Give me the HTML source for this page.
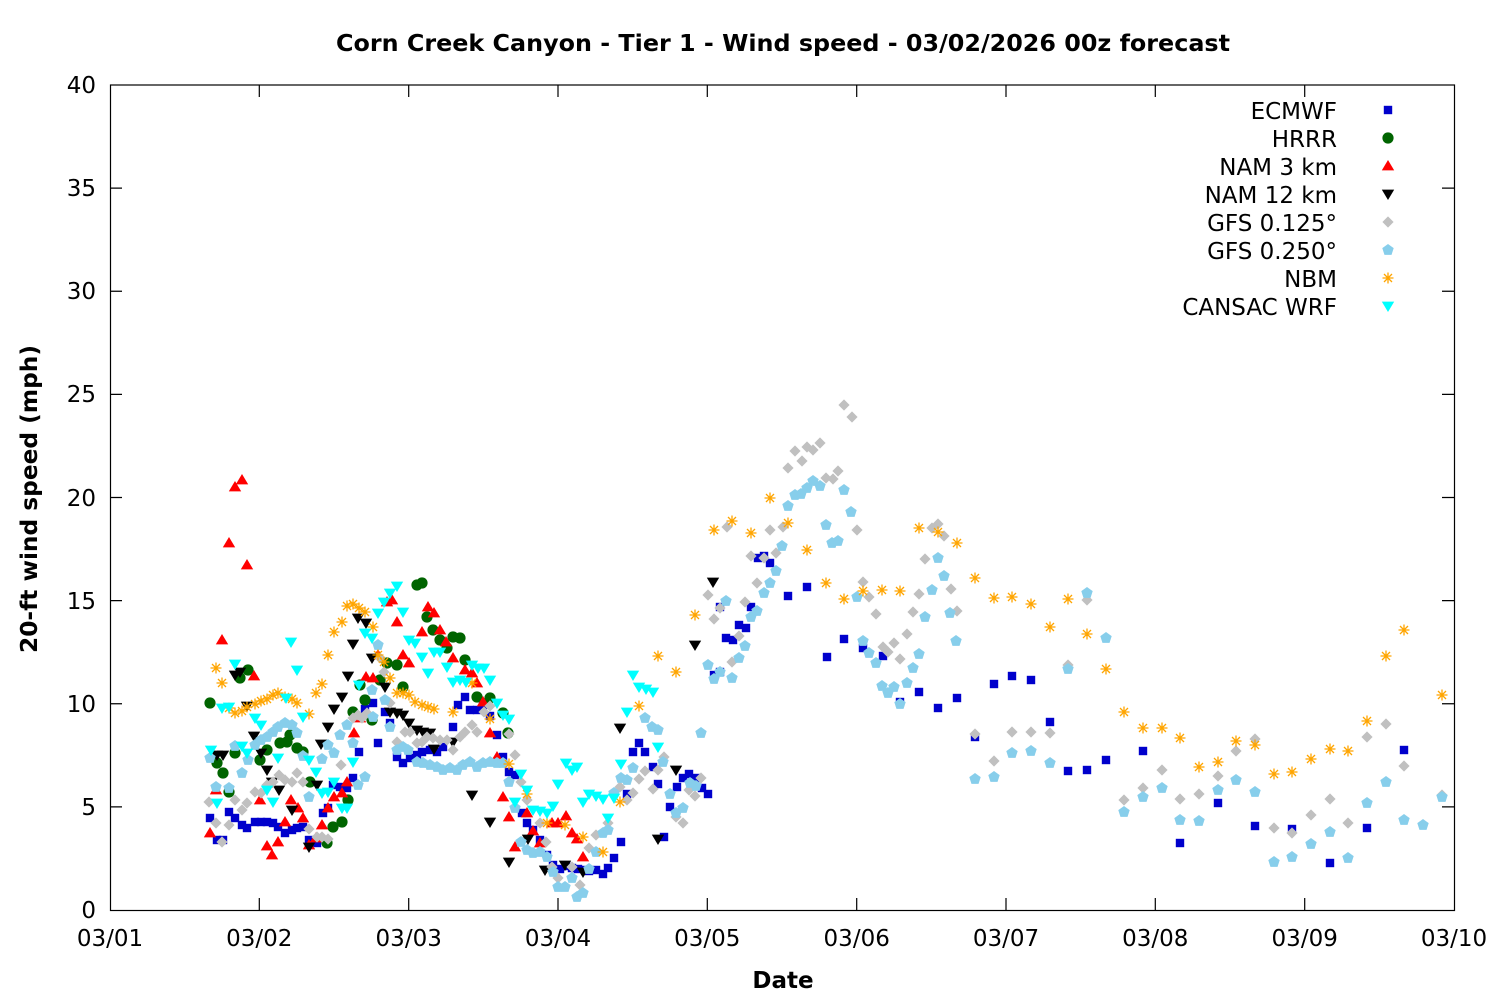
<!DOCTYPE html>
<html><head><meta charset="utf-8"><style>
html,body{margin:0;padding:0;background:#fff;}
svg{display:block;}
text{font-family:"DejaVu Sans","Liberation Sans",sans-serif;fill:#000;}
</style></head><body>
<svg width="1500" height="1000" viewBox="0 0 1500 1000" xmlns="http://www.w3.org/2000/svg">
<defs>
<path id="sq" d="M-4.2,-4.2h8.4v8.4h-8.4z"/>
<circle id="ci" cx="0" cy="0" r="5.6"/>
<path id="tu" d="M0,-6L6.2,4.4L-6.2,4.4z"/>
<path id="td" d="M-6.2,-4.4L6.2,-4.4L0,6z"/>
<path id="di" d="M0,-5.6L5.6,0L0,5.6L-5.6,0z"/>
<path id="pe" d="M0,-6L5.7,-1.85L3.53,4.85L-3.53,4.85L-5.7,-1.85z"/>
<path id="as" d="M-5.5,0H5.5M0,-5.5V5.5M-4,-4L4,4M-4,4L4,-4"/>
</defs>
<rect x="0" y="0" width="1500" height="1000" fill="#fff"/>

<!-- title -->
<text x="783" y="51" text-anchor="middle" font-size="23" font-weight="bold" textLength="894" lengthAdjust="spacingAndGlyphs">Corn Creek Canyon - Tier 1 - Wind speed - 03/02/2026 00z forecast</text>

<!-- frame and ticks -->
<g stroke="#000" stroke-width="1.2" fill="none">
<rect x="110.5" y="85" width="1344" height="825.5"/>
<path d="M259.3,910V898M408.7,910V898M558,910V898M707.3,910V898M856.7,910V898M1006,910V898M1155.3,910V898M1304.7,910V898
M259.3,85V97M408.7,85V97M558,85V97M707.3,85V97M856.7,85V97M1006,85V97M1155.3,85V97M1304.7,85V97
M110,806.9H122M110,703.75H122M110,600.6H122M110,497.5H122M110,394.4H122M110,291.25H122M110,188.1H122
M1454,806.9H1442M1454,703.75H1442M1454,600.6H1442M1454,497.5H1442M1454,394.4H1442M1454,291.25H1442M1454,188.1H1442"/>
</g>

<!-- y tick labels -->
<g font-size="23" text-anchor="end">
<text x="96" y="918">0</text>
<text x="96" y="815">5</text>
<text x="96" y="712">10</text>
<text x="96" y="609">15</text>
<text x="96" y="506">20</text>
<text x="96" y="402">25</text>
<text x="96" y="299">30</text>
<text x="96" y="196">35</text>
<text x="96" y="93">40</text>
</g>
<!-- x tick labels -->
<g font-size="23" text-anchor="middle">
<text x="110" y="946">03/01</text>
<text x="259.3" y="946">03/02</text>
<text x="408.7" y="946">03/03</text>
<text x="558" y="946">03/04</text>
<text x="707.3" y="946">03/05</text>
<text x="856.7" y="946">03/06</text>
<text x="1006" y="946">03/07</text>
<text x="1155.3" y="946">03/08</text>
<text x="1304.7" y="946">03/09</text>
<text x="1454" y="946">03/10</text>
</g>
<text x="783" y="988" text-anchor="middle" font-size="23" font-weight="bold">Date</text>
<text transform="translate(37,499) rotate(-90)" text-anchor="middle" font-size="23" font-weight="bold" textLength="308" lengthAdjust="spacingAndGlyphs">20-ft wind speed (mph)</text>

<!-- legend text -->
<g font-size="23" text-anchor="end">
<text x="1337" y="119">ECMWF</text>
<text x="1337" y="147">HRRR</text>
<text x="1337" y="175">NAM 3 km</text>
<text x="1337" y="203">NAM 12 km</text>
<text x="1337" y="231">GFS 0.125°</text>
<text x="1337" y="259">GFS 0.250°</text>
<text x="1337" y="287">NBM</text>
<text x="1337" y="315">CANSAC WRF</text>
</g>

<!-- ECMWF -->
<g fill="#0000cc">
<use href="#sq" x="1388" y="110"/>
<use href="#sq" x="210" y="818"/><use href="#sq" x="217" y="840"/><use href="#sq" x="223" y="840"/><use href="#sq" x="229" y="812"/><use href="#sq" x="235" y="818"/><use href="#sq" x="242" y="825"/><use href="#sq" x="247" y="828"/><use href="#sq" x="255" y="822"/><use href="#sq" x="261" y="822"/><use href="#sq" x="267" y="822"/><use href="#sq" x="273" y="823"/><use href="#sq" x="278" y="827"/><use href="#sq" x="285" y="833"/><use href="#sq" x="292" y="830"/><use href="#sq" x="297" y="828"/><use href="#sq" x="303" y="827"/><use href="#sq" x="309" y="840"/><use href="#sq" x="317" y="843"/><use href="#sq" x="323" y="813"/><use href="#sq" x="328" y="808"/><use href="#sq" x="333" y="785"/><use href="#sq" x="340" y="787"/><use href="#sq" x="347" y="788"/><use href="#sq" x="353" y="778"/><use href="#sq" x="359" y="752"/><use href="#sq" x="365" y="709"/><use href="#sq" x="373" y="703"/><use href="#sq" x="378" y="743"/><use href="#sq" x="385" y="712"/><use href="#sq" x="390" y="723"/><use href="#sq" x="397" y="757"/><use href="#sq" x="403" y="763"/><use href="#sq" x="410" y="758"/><use href="#sq" x="417" y="755"/><use href="#sq" x="422" y="752"/><use href="#sq" x="430" y="750"/><use href="#sq" x="437" y="752"/><use href="#sq" x="443" y="747"/><use href="#sq" x="453" y="727"/><use href="#sq" x="458" y="705"/><use href="#sq" x="465" y="697"/><use href="#sq" x="470" y="710"/><use href="#sq" x="477" y="710"/><use href="#sq" x="483" y="705"/><use href="#sq" x="490" y="716"/><use href="#sq" x="497" y="735"/><use href="#sq" x="503" y="757"/><use href="#sq" x="509" y="772"/><use href="#sq" x="515" y="775"/><use href="#sq" x="522" y="813"/><use href="#sq" x="527" y="823"/><use href="#sq" x="533" y="830"/><use href="#sq" x="540" y="840"/><use href="#sq" x="547" y="855"/><use href="#sq" x="553" y="865"/><use href="#sq" x="560" y="869"/><use href="#sq" x="566" y="866"/><use href="#sq" x="572" y="868"/><use href="#sq" x="578" y="869"/><use href="#sq" x="585" y="870"/><use href="#sq" x="589" y="871"/><use href="#sq" x="596" y="870"/><use href="#sq" x="603" y="874"/><use href="#sq" x="608" y="868"/><use href="#sq" x="614" y="858"/><use href="#sq" x="621" y="842"/><use href="#sq" x="627" y="794"/><use href="#sq" x="633" y="752"/><use href="#sq" x="639" y="743"/><use href="#sq" x="645" y="752"/><use href="#sq" x="653" y="767"/><use href="#sq" x="658" y="784"/><use href="#sq" x="664" y="837"/><use href="#sq" x="670" y="807"/><use href="#sq" x="677" y="787"/><use href="#sq" x="683" y="778"/><use href="#sq" x="689" y="774"/><use href="#sq" x="696" y="778"/><use href="#sq" x="702" y="788"/><use href="#sq" x="708" y="794"/><use href="#sq" x="714" y="675"/><use href="#sq" x="720" y="607"/><use href="#sq" x="720" y="672"/><use href="#sq" x="726" y="638"/><use href="#sq" x="733" y="640"/><use href="#sq" x="739" y="625"/><use href="#sq" x="746" y="628"/><use href="#sq" x="751" y="607"/><use href="#sq" x="758" y="558"/><use href="#sq" x="764" y="556"/><use href="#sq" x="770" y="563"/><use href="#sq" x="788" y="596"/><use href="#sq" x="807" y="587"/><use href="#sq" x="827" y="657"/><use href="#sq" x="844" y="639"/><use href="#sq" x="863" y="648"/><use href="#sq" x="883" y="656"/><use href="#sq" x="900" y="702"/><use href="#sq" x="919" y="692"/><use href="#sq" x="938" y="708"/><use href="#sq" x="957" y="698"/><use href="#sq" x="975" y="737"/><use href="#sq" x="994" y="684"/><use href="#sq" x="1012" y="676"/><use href="#sq" x="1031" y="680"/><use href="#sq" x="1050" y="722"/><use href="#sq" x="1068" y="771"/><use href="#sq" x="1087" y="770"/><use href="#sq" x="1106" y="760"/><use href="#sq" x="1143" y="751"/><use href="#sq" x="1180" y="843"/><use href="#sq" x="1218" y="803"/><use href="#sq" x="1255" y="826"/><use href="#sq" x="1292" y="829"/><use href="#sq" x="1330" y="863"/><use href="#sq" x="1367" y="828"/><use href="#sq" x="1404" y="750"/>
</g>

<!-- HRRR -->
<g fill="#006400">
<use href="#ci" x="1388" y="138"/>
<use href="#ci" x="210" y="703"/><use href="#ci" x="217" y="763"/><use href="#ci" x="223" y="773"/><use href="#ci" x="229" y="792"/><use href="#ci" x="235" y="753"/><use href="#ci" x="240" y="678"/><use href="#ci" x="248" y="670"/><use href="#ci" x="260" y="760"/><use href="#ci" x="267" y="750"/><use href="#ci" x="280" y="743"/><use href="#ci" x="287" y="742"/><use href="#ci" x="290" y="735"/><use href="#ci" x="297" y="748"/><use href="#ci" x="303" y="752"/><use href="#ci" x="310" y="782"/><use href="#ci" x="327" y="843"/><use href="#ci" x="333" y="827"/><use href="#ci" x="342" y="822"/><use href="#ci" x="348" y="800"/><use href="#ci" x="353" y="712"/><use href="#ci" x="360" y="685"/><use href="#ci" x="365" y="700"/><use href="#ci" x="372" y="720"/><use href="#ci" x="380" y="680"/><use href="#ci" x="387" y="663"/><use href="#ci" x="397" y="665"/><use href="#ci" x="403" y="687"/><use href="#ci" x="417" y="585"/><use href="#ci" x="422" y="583"/><use href="#ci" x="427" y="617"/><use href="#ci" x="433" y="630"/><use href="#ci" x="440" y="640"/><use href="#ci" x="447" y="648"/><use href="#ci" x="453" y="637"/><use href="#ci" x="460" y="638"/><use href="#ci" x="465" y="660"/><use href="#ci" x="477" y="697"/><use href="#ci" x="490" y="698"/><use href="#ci" x="503" y="713"/><use href="#ci" x="508" y="733"/>
</g>

<!-- NAM 3 km -->
<g fill="#ff0000">
<use href="#tu" x="1388" y="166"/>
<use href="#tu" x="210" y="833"/><use href="#tu" x="216" y="790"/><use href="#tu" x="222" y="640"/><use href="#tu" x="229" y="543"/><use href="#tu" x="235" y="487"/><use href="#tu" x="242" y="480"/><use href="#tu" x="247" y="565"/><use href="#tu" x="254" y="676"/><use href="#tu" x="260" y="800"/><use href="#tu" x="267" y="846"/><use href="#tu" x="272" y="855"/><use href="#tu" x="278" y="842"/><use href="#tu" x="285" y="822"/><use href="#tu" x="291" y="800"/><use href="#tu" x="298" y="808"/><use href="#tu" x="303" y="818"/><use href="#tu" x="309" y="845"/><use href="#tu" x="316" y="838"/><use href="#tu" x="322" y="825"/><use href="#tu" x="328" y="808"/><use href="#tu" x="334" y="797"/><use href="#tu" x="342" y="793"/><use href="#tu" x="347" y="782"/><use href="#tu" x="354" y="733"/><use href="#tu" x="360" y="718"/><use href="#tu" x="366" y="677"/><use href="#tu" x="373" y="678"/><use href="#tu" x="378" y="655"/><use href="#tu" x="387" y="602"/><use href="#tu" x="392" y="600"/><use href="#tu" x="397" y="622"/><use href="#tu" x="403" y="655"/><use href="#tu" x="409" y="663"/><use href="#tu" x="422" y="632"/><use href="#tu" x="428" y="607"/><use href="#tu" x="434" y="613"/><use href="#tu" x="440" y="630"/><use href="#tu" x="446" y="642"/><use href="#tu" x="453" y="658"/><use href="#tu" x="465" y="670"/><use href="#tu" x="472" y="673"/><use href="#tu" x="477" y="683"/><use href="#tu" x="483" y="702"/><use href="#tu" x="490" y="733"/><use href="#tu" x="497" y="757"/><use href="#tu" x="503" y="797"/><use href="#tu" x="509" y="817"/><use href="#tu" x="515" y="847"/><use href="#tu" x="527" y="813"/><use href="#tu" x="533" y="831"/><use href="#tu" x="540" y="843"/><use href="#tu" x="552" y="823"/><use href="#tu" x="558" y="823"/><use href="#tu" x="566" y="816"/><use href="#tu" x="572" y="833"/><use href="#tu" x="577" y="839"/><use href="#tu" x="583" y="857"/>
</g>

<!-- NAM 12 km -->
<g fill="#000000">
<use href="#td" x="1388" y="194"/>
<use href="#td" x="217" y="755"/><use href="#td" x="223" y="755"/><use href="#td" x="235" y="675"/><use href="#td" x="240" y="672"/><use href="#td" x="247" y="706"/><use href="#td" x="254" y="736"/><use href="#td" x="261" y="753"/><use href="#td" x="267" y="770"/><use href="#td" x="272" y="782"/><use href="#td" x="279" y="790"/><use href="#td" x="292" y="810"/><use href="#td" x="309" y="847"/><use href="#td" x="317" y="785"/><use href="#td" x="321" y="744"/><use href="#td" x="328" y="727"/><use href="#td" x="334" y="709"/><use href="#td" x="342" y="697"/><use href="#td" x="348" y="676"/><use href="#td" x="353" y="644"/><use href="#td" x="358" y="618"/><use href="#td" x="366" y="623"/><use href="#td" x="372" y="658"/><use href="#td" x="385" y="687"/><use href="#td" x="390" y="712"/><use href="#td" x="397" y="713"/><use href="#td" x="403" y="715"/><use href="#td" x="409" y="723"/><use href="#td" x="417" y="730"/><use href="#td" x="423" y="732"/><use href="#td" x="430" y="733"/><use href="#td" x="434" y="749"/><use href="#td" x="453" y="742"/><use href="#td" x="472" y="795"/><use href="#td" x="490" y="822"/><use href="#td" x="509" y="862"/><use href="#td" x="528" y="839"/><use href="#td" x="545" y="870"/><use href="#td" x="565" y="865"/><use href="#td" x="583" y="872"/><use href="#td" x="620" y="728"/><use href="#td" x="658" y="839"/><use href="#td" x="676" y="770"/><use href="#td" x="695" y="645"/><use href="#td" x="713" y="582"/>
</g>

<!-- GFS 0.125 -->
<g fill="#c0c0c0">
<use href="#di" x="1388" y="222"/>
<use href="#di" x="209" y="802"/><use href="#di" x="216" y="823"/><use href="#di" x="222" y="842"/><use href="#di" x="229" y="825"/><use href="#di" x="235" y="800"/><use href="#di" x="242" y="810"/><use href="#di" x="247" y="803"/><use href="#di" x="255" y="792"/><use href="#di" x="261" y="793"/><use href="#di" x="267" y="785"/><use href="#di" x="273" y="782"/><use href="#di" x="279" y="775"/><use href="#di" x="285" y="780"/><use href="#di" x="292" y="782"/><use href="#di" x="297" y="773"/><use href="#di" x="303" y="782"/><use href="#di" x="309" y="829"/><use href="#di" x="317" y="837"/><use href="#di" x="322" y="837"/><use href="#di" x="328" y="839"/><use href="#di" x="341" y="765"/><use href="#di" x="353" y="718"/><use href="#di" x="358" y="715"/><use href="#di" x="362" y="718"/><use href="#di" x="367" y="713"/><use href="#di" x="380" y="658"/><use href="#di" x="384" y="672"/><use href="#di" x="390" y="703"/><use href="#di" x="397" y="742"/><use href="#di" x="405" y="732"/><use href="#di" x="410" y="732"/><use href="#di" x="417" y="743"/><use href="#di" x="422" y="742"/><use href="#di" x="427" y="737"/><use href="#di" x="433" y="738"/><use href="#di" x="440" y="740"/><use href="#di" x="447" y="740"/><use href="#di" x="453" y="750"/><use href="#di" x="460" y="737"/><use href="#di" x="465" y="732"/><use href="#di" x="472" y="725"/><use href="#di" x="477" y="732"/><use href="#di" x="484" y="712"/><use href="#di" x="490" y="706"/><use href="#di" x="509" y="734"/><use href="#di" x="515" y="755"/><use href="#di" x="521" y="782"/><use href="#di" x="527" y="800"/><use href="#di" x="540" y="823"/><use href="#di" x="546" y="842"/><use href="#di" x="552" y="867"/><use href="#di" x="558" y="878"/><use href="#di" x="572" y="867"/><use href="#di" x="580" y="885"/><use href="#di" x="589" y="848"/><use href="#di" x="596" y="835"/><use href="#di" x="608" y="823"/><use href="#di" x="620" y="787"/><use href="#di" x="627" y="800"/><use href="#di" x="633" y="793"/><use href="#di" x="639" y="779"/><use href="#di" x="645" y="771"/><use href="#di" x="653" y="789"/><use href="#di" x="658" y="770"/><use href="#di" x="664" y="757"/><use href="#di" x="676" y="817"/><use href="#di" x="683" y="823"/><use href="#di" x="689" y="790"/><use href="#di" x="695" y="796"/><use href="#di" x="701" y="778"/><use href="#di" x="708" y="595"/><use href="#di" x="714" y="619"/><use href="#di" x="720" y="608"/><use href="#di" x="727" y="527"/><use href="#di" x="732" y="662"/><use href="#di" x="739" y="636"/><use href="#di" x="745" y="602"/><use href="#di" x="751" y="556"/><use href="#di" x="757" y="583"/><use href="#di" x="764" y="558"/><use href="#di" x="770" y="530"/><use href="#di" x="776" y="553"/><use href="#di" x="783" y="527"/><use href="#di" x="788" y="468"/><use href="#di" x="795" y="451"/><use href="#di" x="802" y="461"/><use href="#di" x="807" y="447"/><use href="#di" x="813" y="450"/><use href="#di" x="820" y="443"/><use href="#di" x="826" y="478"/><use href="#di" x="833" y="479"/><use href="#di" x="838" y="471"/><use href="#di" x="844" y="405"/><use href="#di" x="852" y="417"/><use href="#di" x="857" y="530"/><use href="#di" x="863" y="582"/><use href="#di" x="869" y="597"/><use href="#di" x="876" y="614"/><use href="#di" x="883" y="647"/><use href="#di" x="888" y="652"/><use href="#di" x="894" y="643"/><use href="#di" x="900" y="659"/><use href="#di" x="907" y="634"/><use href="#di" x="913" y="612"/><use href="#di" x="919" y="594"/><use href="#di" x="925" y="559"/><use href="#di" x="932" y="528"/><use href="#di" x="938" y="524"/><use href="#di" x="944" y="536"/><use href="#di" x="951" y="589"/><use href="#di" x="957" y="611"/><use href="#di" x="975" y="734"/><use href="#di" x="994" y="761"/><use href="#di" x="1012" y="732"/><use href="#di" x="1031" y="732"/><use href="#di" x="1050" y="733"/><use href="#di" x="1068" y="665"/><use href="#di" x="1087" y="600"/><use href="#di" x="1124" y="800"/><use href="#di" x="1143" y="788"/><use href="#di" x="1162" y="770"/><use href="#di" x="1180" y="799"/><use href="#di" x="1199" y="794"/><use href="#di" x="1218" y="776"/><use href="#di" x="1236" y="751"/><use href="#di" x="1255" y="739"/><use href="#di" x="1274" y="828"/><use href="#di" x="1292" y="833"/><use href="#di" x="1311" y="815"/><use href="#di" x="1330" y="799"/><use href="#di" x="1348" y="823"/><use href="#di" x="1367" y="737"/><use href="#di" x="1386" y="724"/><use href="#di" x="1404" y="766"/><use href="#di" x="1442" y="795"/>
</g>

<!-- GFS 0.250 -->
<g fill="#87ceeb">
<use href="#pe" x="1388" y="250"/>
<use href="#pe" x="210" y="758"/><use href="#pe" x="216" y="787"/><use href="#pe" x="229" y="788"/><use href="#pe" x="235" y="746"/><use href="#pe" x="242" y="773"/><use href="#pe" x="248" y="760"/><use href="#pe" x="255" y="745"/><use href="#pe" x="261" y="740"/><use href="#pe" x="267" y="737"/><use href="#pe" x="273" y="732"/><use href="#pe" x="278" y="727"/><use href="#pe" x="285" y="723"/><use href="#pe" x="292" y="725"/><use href="#pe" x="297" y="733"/><use href="#pe" x="303" y="756"/><use href="#pe" x="309" y="797"/><use href="#pe" x="322" y="759"/><use href="#pe" x="328" y="745"/><use href="#pe" x="334" y="753"/><use href="#pe" x="340" y="735"/><use href="#pe" x="347" y="725"/><use href="#pe" x="353" y="743"/><use href="#pe" x="358" y="785"/><use href="#pe" x="365" y="777"/><use href="#pe" x="372" y="690"/><use href="#pe" x="373" y="717"/><use href="#pe" x="378" y="645"/><use href="#pe" x="385" y="700"/><use href="#pe" x="390" y="727"/><use href="#pe" x="397" y="750"/><use href="#pe" x="403" y="747"/><use href="#pe" x="408" y="750"/><use href="#pe" x="417" y="762"/><use href="#pe" x="423" y="763"/><use href="#pe" x="430" y="765"/><use href="#pe" x="437" y="767"/><use href="#pe" x="443" y="770"/><use href="#pe" x="450" y="768"/><use href="#pe" x="457" y="770"/><use href="#pe" x="463" y="765"/><use href="#pe" x="470" y="762"/><use href="#pe" x="477" y="767"/><use href="#pe" x="483" y="763"/><use href="#pe" x="490" y="762"/><use href="#pe" x="497" y="763"/><use href="#pe" x="503" y="763"/><use href="#pe" x="509" y="782"/><use href="#pe" x="515" y="808"/><use href="#pe" x="521" y="842"/><use href="#pe" x="527" y="850"/><use href="#pe" x="533" y="853"/><use href="#pe" x="540" y="852"/><use href="#pe" x="547" y="857"/><use href="#pe" x="553" y="872"/><use href="#pe" x="558" y="887"/><use href="#pe" x="565" y="887"/><use href="#pe" x="572" y="878"/><use href="#pe" x="577" y="897"/><use href="#pe" x="583" y="893"/><use href="#pe" x="589" y="869"/><use href="#pe" x="596" y="852"/><use href="#pe" x="603" y="833"/><use href="#pe" x="608" y="830"/><use href="#pe" x="614" y="793"/><use href="#pe" x="621" y="778"/><use href="#pe" x="627" y="780"/><use href="#pe" x="633" y="768"/><use href="#pe" x="645" y="718"/><use href="#pe" x="652" y="727"/><use href="#pe" x="658" y="730"/><use href="#pe" x="663" y="762"/><use href="#pe" x="670" y="794"/><use href="#pe" x="676" y="813"/><use href="#pe" x="683" y="808"/><use href="#pe" x="690" y="783"/><use href="#pe" x="696" y="786"/><use href="#pe" x="701" y="733"/><use href="#pe" x="708" y="665"/><use href="#pe" x="720" y="672"/><use href="#pe" x="714" y="679"/><use href="#pe" x="726" y="601"/><use href="#pe" x="732" y="678"/><use href="#pe" x="739" y="658"/><use href="#pe" x="745" y="646"/><use href="#pe" x="751" y="617"/><use href="#pe" x="757" y="611"/><use href="#pe" x="764" y="593"/><use href="#pe" x="770" y="583"/><use href="#pe" x="776" y="571"/><use href="#pe" x="782" y="546"/><use href="#pe" x="788" y="506"/><use href="#pe" x="795" y="495"/><use href="#pe" x="801" y="494"/><use href="#pe" x="807" y="488"/><use href="#pe" x="813" y="481"/><use href="#pe" x="820" y="486"/><use href="#pe" x="826" y="525"/><use href="#pe" x="832" y="543"/><use href="#pe" x="838" y="541"/><use href="#pe" x="844" y="490"/><use href="#pe" x="851" y="512"/><use href="#pe" x="857" y="597"/><use href="#pe" x="863" y="641"/><use href="#pe" x="869" y="653"/><use href="#pe" x="876" y="663"/><use href="#pe" x="882" y="686"/><use href="#pe" x="888" y="693"/><use href="#pe" x="894" y="687"/><use href="#pe" x="900" y="704"/><use href="#pe" x="907" y="683"/><use href="#pe" x="913" y="668"/><use href="#pe" x="919" y="654"/><use href="#pe" x="925" y="617"/><use href="#pe" x="932" y="590"/><use href="#pe" x="938" y="558"/><use href="#pe" x="944" y="576"/><use href="#pe" x="950" y="613"/><use href="#pe" x="956" y="641"/><use href="#pe" x="975" y="779"/><use href="#pe" x="994" y="777"/><use href="#pe" x="1012" y="753"/><use href="#pe" x="1031" y="751"/><use href="#pe" x="1050" y="763"/><use href="#pe" x="1068" y="669"/><use href="#pe" x="1087" y="593"/><use href="#pe" x="1106" y="638"/><use href="#pe" x="1124" y="812"/><use href="#pe" x="1143" y="797"/><use href="#pe" x="1162" y="788"/><use href="#pe" x="1180" y="820"/><use href="#pe" x="1199" y="821"/><use href="#pe" x="1218" y="790"/><use href="#pe" x="1236" y="780"/><use href="#pe" x="1255" y="792"/><use href="#pe" x="1274" y="862"/><use href="#pe" x="1292" y="857"/><use href="#pe" x="1311" y="844"/><use href="#pe" x="1330" y="832"/><use href="#pe" x="1348" y="858"/><use href="#pe" x="1367" y="803"/><use href="#pe" x="1386" y="782"/><use href="#pe" x="1404" y="820"/><use href="#pe" x="1423" y="825"/><use href="#pe" x="1442" y="797"/>
</g>

<!-- NBM -->
<g fill="none" stroke="#ffa500" stroke-width="1.3">
<use href="#as" x="1388" y="278"/>
<use href="#as" x="216" y="668"/><use href="#as" x="222" y="683"/><use href="#as" x="229" y="708"/><use href="#as" x="235" y="713"/><use href="#as" x="242" y="711"/><use href="#as" x="247" y="707"/><use href="#as" x="255" y="704"/><use href="#as" x="261" y="701"/><use href="#as" x="267" y="699"/><use href="#as" x="273" y="695"/><use href="#as" x="278" y="693"/><use href="#as" x="285" y="697"/><use href="#as" x="292" y="699"/><use href="#as" x="297" y="703"/><use href="#as" x="309" y="714"/><use href="#as" x="316" y="693"/><use href="#as" x="322" y="684"/><use href="#as" x="328" y="655"/><use href="#as" x="334" y="632"/><use href="#as" x="342" y="622"/><use href="#as" x="347" y="606"/><use href="#as" x="353" y="604"/><use href="#as" x="359" y="608"/><use href="#as" x="365" y="612"/><use href="#as" x="373" y="627"/><use href="#as" x="378" y="655"/><use href="#as" x="384" y="662"/><use href="#as" x="390" y="678"/><use href="#as" x="397" y="693"/><use href="#as" x="403" y="693"/><use href="#as" x="409" y="695"/><use href="#as" x="415" y="702"/><use href="#as" x="422" y="705"/><use href="#as" x="428" y="707"/><use href="#as" x="434" y="709"/><use href="#as" x="453" y="712"/><use href="#as" x="472" y="683"/><use href="#as" x="490" y="719"/><use href="#as" x="509" y="764"/><use href="#as" x="527" y="794"/><use href="#as" x="547" y="823"/><use href="#as" x="565" y="825"/><use href="#as" x="583" y="837"/><use href="#as" x="603" y="852"/><use href="#as" x="620" y="802"/><use href="#as" x="639" y="706"/><use href="#as" x="658" y="656"/><use href="#as" x="676" y="672"/><use href="#as" x="695" y="615"/><use href="#as" x="714" y="530"/><use href="#as" x="732" y="521"/><use href="#as" x="751" y="533"/><use href="#as" x="770" y="498"/><use href="#as" x="788" y="523"/><use href="#as" x="807" y="550"/><use href="#as" x="826" y="583"/><use href="#as" x="844" y="599"/><use href="#as" x="863" y="591"/><use href="#as" x="882" y="590"/><use href="#as" x="900" y="591"/><use href="#as" x="919" y="528"/><use href="#as" x="938" y="532"/><use href="#as" x="957" y="543"/><use href="#as" x="975" y="578"/><use href="#as" x="994" y="598"/><use href="#as" x="1012" y="597"/><use href="#as" x="1031" y="604"/><use href="#as" x="1050" y="627"/><use href="#as" x="1068" y="599"/><use href="#as" x="1087" y="634"/><use href="#as" x="1106" y="669"/><use href="#as" x="1124" y="712"/><use href="#as" x="1143" y="728"/><use href="#as" x="1162" y="728"/><use href="#as" x="1180" y="738"/><use href="#as" x="1199" y="767"/><use href="#as" x="1218" y="762"/><use href="#as" x="1236" y="741"/><use href="#as" x="1255" y="745"/><use href="#as" x="1274" y="774"/><use href="#as" x="1292" y="772"/><use href="#as" x="1311" y="759"/><use href="#as" x="1330" y="749"/><use href="#as" x="1348" y="751"/><use href="#as" x="1367" y="721"/><use href="#as" x="1386" y="656"/><use href="#as" x="1404" y="630"/><use href="#as" x="1442" y="695"/>
</g>

<!-- CANSAC WRF -->
<g fill="#00ffff">
<use href="#td" x="1388" y="306"/>
<use href="#td" x="211" y="750"/><use href="#td" x="217" y="803"/><use href="#td" x="222" y="708"/><use href="#td" x="229" y="707"/><use href="#td" x="235" y="664"/><use href="#td" x="242" y="746"/><use href="#td" x="247" y="753"/><use href="#td" x="255" y="718"/><use href="#td" x="261" y="725"/><use href="#td" x="267" y="790"/><use href="#td" x="273" y="802"/><use href="#td" x="278" y="758"/><use href="#td" x="286" y="698"/><use href="#td" x="291" y="642"/><use href="#td" x="297" y="670"/><use href="#td" x="303" y="717"/><use href="#td" x="309" y="760"/><use href="#td" x="316" y="772"/><use href="#td" x="322" y="793"/><use href="#td" x="328" y="792"/><use href="#td" x="334" y="782"/><use href="#td" x="342" y="808"/><use href="#td" x="347" y="808"/><use href="#td" x="353" y="762"/><use href="#td" x="359" y="685"/><use href="#td" x="365" y="633"/><use href="#td" x="372" y="638"/><use href="#td" x="378" y="613"/><use href="#td" x="384" y="602"/><use href="#td" x="390" y="593"/><use href="#td" x="397" y="586"/><use href="#td" x="403" y="612"/><use href="#td" x="409" y="640"/><use href="#td" x="415" y="643"/><use href="#td" x="422" y="657"/><use href="#td" x="428" y="673"/><use href="#td" x="434" y="652"/><use href="#td" x="440" y="652"/><use href="#td" x="447" y="667"/><use href="#td" x="453" y="682"/><use href="#td" x="460" y="680"/><use href="#td" x="466" y="682"/><use href="#td" x="472" y="665"/><use href="#td" x="478" y="668"/><use href="#td" x="484" y="668"/><use href="#td" x="490" y="680"/><use href="#td" x="497" y="703"/><use href="#td" x="503" y="715"/><use href="#td" x="509" y="719"/><use href="#td" x="515" y="802"/><use href="#td" x="521" y="774"/><use href="#td" x="527" y="790"/><use href="#td" x="533" y="810"/><use href="#td" x="540" y="811"/><use href="#td" x="547" y="813"/><use href="#td" x="553" y="806"/><use href="#td" x="558" y="784"/><use href="#td" x="566" y="763"/><use href="#td" x="572" y="770"/><use href="#td" x="577" y="767"/><use href="#td" x="583" y="802"/><use href="#td" x="589" y="794"/><use href="#td" x="596" y="796"/><use href="#td" x="603" y="799"/><use href="#td" x="608" y="818"/><use href="#td" x="614" y="798"/><use href="#td" x="621" y="764"/><use href="#td" x="627" y="712"/><use href="#td" x="633" y="675"/><use href="#td" x="639" y="687"/><use href="#td" x="646" y="689"/><use href="#td" x="653" y="692"/><use href="#td" x="658" y="747"/>
</g>
</svg>
</body></html>
